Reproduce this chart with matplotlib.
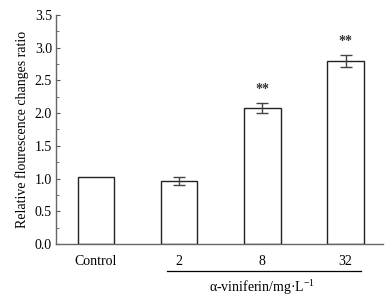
import numpy as np
import matplotlib.pyplot as plt
from matplotlib.ticker import MultipleLocator

# Datos
categorias = ['Control', '2', '8', '32']
valores = [1.02, 0.96, 2.08, 2.80]
errores = [0.0, 0.06, 0.08, 0.09]
marcas = ['', '', '**', '**']

plt.rcParams['font.family'] = ['Liberation Serif', 'DejaVu Serif']

fig = plt.figure(figsize=(3.92, 2.99), dpi=100)
ax = fig.add_axes([0.143, 0.184, 0.834, 0.766])

x = np.arange(len(categorias))
ax.bar(x, valores, width=0.44, color='white', edgecolor='#222222', linewidth=1.0)
for xi, v, e in zip(x, valores, errores):
    if e > 0:
        ax.errorbar(xi, v, yerr=e, color='#444444', capsize=4.5, elinewidth=1.0,
                    capthick=1.0, fmt='none')

# Asteriscos de significancia
for xi, v, e, m in zip(x, valores, errores, marcas):
    if m:
        ax.text(xi, v + e + 0.1, m, ha='center', va='bottom', fontsize=10,
                color='#333333', fontweight='bold')

ax.set_xlim(-0.48, 3.45)
ax.set_ylim(0, 3.5)
ax.yaxis.set_major_locator(MultipleLocator(0.5))
ax.yaxis.set_minor_locator(MultipleLocator(0.25))
ax.yaxis.set_major_formatter(plt.FormatStrFormatter('%.1f'))
ax.tick_params(axis='y', which='major', direction='in', length=3, width=0.8,
               labelsize=10, color='#555555', pad=3)
ax.tick_params(axis='y', which='minor', direction='in', length=2, width=0.6, color='#555555')
ax.set_xticks(x)
ax.set_xticklabels(categorias)
ax.tick_params(axis='x', length=0, labelsize=10, pad=8)

for s in ['top', 'right']:
    ax.spines[s].set_visible(False)
for s in ['left', 'bottom']:
    ax.spines[s].set_color('#666666')
    ax.spines[s].set_linewidth(1.0)

ax.set_ylabel('Relative flourescence changes ratio', fontsize=10, labelpad=4)

# Línea bajo las concentraciones y etiqueta
trans = ax.get_xaxis_transform()
ax.plot([0.85, 3.19], [-0.118, -0.118], transform=trans, color='black',
        linewidth=0.9, clip_on=False)
ax.text(2.0, -0.19, r'α-viniferin/mg·L$^{\mathregular{-1}}$', transform=trans,
        ha='center', va='center', fontsize=10)

fig.savefig('out.png', dpi=100)
